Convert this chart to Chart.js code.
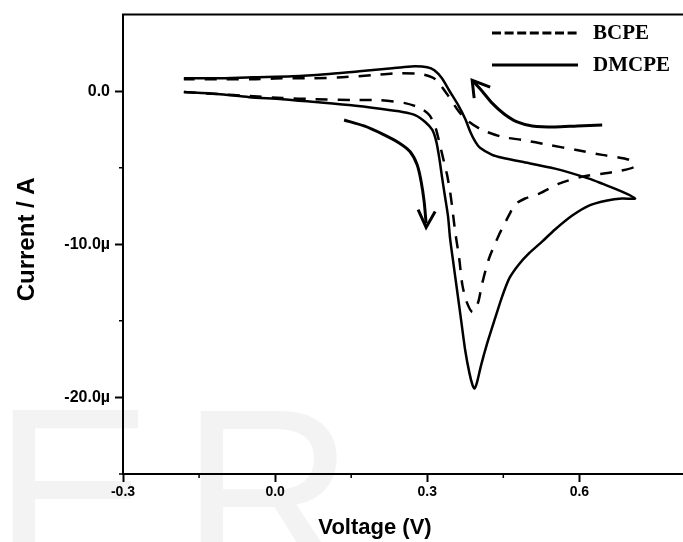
<!DOCTYPE html>
<html><head><meta charset="utf-8">
<style>html,body{margin:0;padding:0;background:#fff;overflow:hidden;width:683px;height:542px}canvas{display:block}</style>
<script src="https://cdn.jsdelivr.net/npm/chart.js@4.4.1/dist/chart.umd.min.js"></script>
</head><body><canvas id="c" width="700" height="542"></canvas>
<script>
// ---- data (V, µA) ----
const dmcpeV = [-0.180,-0.114,-0.051,0.014,0.079,0.146,0.211,0.251,0.276,0.296,0.310,0.318,0.324,0.329,0.335,0.341,0.345,0.351,0.359,0.367,0.375,0.383,0.389,0.393,0.398,0.406,0.418,0.434,0.448,0.462,0.481,0.501,0.527,0.552,0.586,0.619,0.655,0.684,0.710,
  0.684,0.645,0.619,0.552,0.487,0.448,0.428,0.404,0.395,0.385,0.375,0.361,0.343,0.329,0.314,0.300,0.276,0.251,0.231,0.166,0.099,0.034,-0.045,-0.114,-0.180];
const dmcpeI = [-0.06,-0.19,-0.39,-0.52,-0.71,-0.91,-1.17,-1.36,-1.56,-2.01,-2.53,-3.31,-4.42,-5.58,-6.88,-8.18,-9.61,-11.10,-13.05,-15.00,-16.95,-18.38,-19.16,-19.42,-19.03,-17.92,-16.49,-14.81,-13.38,-12.21,-11.30,-10.58,-9.81,-9.03,-8.12,-7.47,-7.14,-7.01,-7.01,
  -6.56,-6.04,-5.71,-5.06,-4.61,-4.35,-4.16,-3.70,-3.31,-2.66,-1.82,-0.91,0.06,0.84,1.36,1.56,1.62,1.56,1.49,1.30,1.10,0.97,0.91,0.84,0.84];
const bcpeV = [-0.180,-0.114,-0.051,0.014,0.079,0.152,0.205,0.256,0.286,0.304,0.316,0.325,0.333,0.339,0.345,0.349,0.355,0.363,0.369,0.377,0.389,0.400,0.408,0.422,0.442,0.462,0.473,0.493,0.521,0.560,0.606,0.645,0.671,0.708,
  0.698,0.645,0.592,0.540,0.487,0.448,0.408,0.383,0.363,0.339,0.316,0.290,0.245,0.191,0.132,0.073,0.014,-0.045,-0.114,-0.180];
const bcpeI = [-0.06,-0.19,-0.32,-0.45,-0.52,-0.58,-0.58,-0.78,-1.10,-1.56,-2.34,-3.51,-4.61,-5.45,-6.56,-7.53,-9.16,-10.91,-12.60,-13.70,-14.42,-13.83,-12.60,-10.91,-9.35,-8.05,-7.40,-7.01,-6.69,-6.04,-5.58,-5.39,-5.26,-4.94,
  -4.48,-4.16,-3.83,-3.51,-3.18,-2.99,-2.53,-2.01,-1.36,-0.19,0.78,1.10,1.17,1.04,0.91,0.84,0.84,0.78,0.78,0.78];
// annotation arrows (data units)
const arrow1V = [0.136,0.1755,0.211,0.2446,0.2663,0.2801,0.288,0.2939,0.2978];
const arrow1I = [-1.88,-2.27,-2.79,-3.38,-3.96,-4.81,-5.91,-7.21,-8.64];
const head1V = [0.282,0.2978,0.3156];
const head1I = [-7.73,-8.90,-7.86];
const arrow2V = [0.645,0.5957,0.5523,0.5069,0.4773,0.4517,0.428,0.4083,0.3905];
const arrow2I = [-2.21,-2.27,-2.34,-2.27,-2.01,-1.49,-0.78,0.0,0.65];
const head2V = [0.4241,0.3886,0.3925];
const head2I = [0.26,0.71,-0.45];
// ticks
const xMajor = [-0.3,0,0.3,0.6];
const xMajorLabels = ['-0.3','0.0','0.3','0.6'];
const xMinor = [-0.15,0.15,0.45];
const yMajor = [0,-10,-20];
const yMajorLabels = ['0.0','-10.0\u00b5','-20.0\u00b5'];
const yMinor = [-5,-15,-25];
const seriesNames = ['BCPE','DMCPE'];

const pts = (xs, ys) => xs.map((x, i) => ({x, y: ys[i]}));

const deco = {
  id: 'deco',
  beforeDraw(chart) {
    const ctx = chart.ctx;
    ctx.save();
    ctx.fillStyle = '#f3f3f3';
    ctx.font = '240px "Liberation Sans", Arial, sans-serif';
    ctx.textBaseline = 'alphabetic';
    ctx.fillText('E', -7, 575);
    ctx.fillText('R', 181, 575);
    ctx.restore();
  },
  afterDraw(chart) {
    const ctx = chart.ctx, a = chart.chartArea;
    const xs = chart.scales.x, ys = chart.scales.y;
    ctx.save();
    ctx.strokeStyle = '#000';
    ctx.lineWidth = 2;
    ctx.beginPath();
    ctx.moveTo(a.left - 1, a.top);
    ctx.lineTo(chart.width, a.top);
    ctx.stroke();
    // minor ticks
    ctx.lineWidth = 1.5;
    ctx.beginPath();
    xMinor.forEach(v => { const p = xs.getPixelForValue(v); ctx.moveTo(p, a.bottom); ctx.lineTo(p, a.bottom + 4); });
    yMinor.forEach(v => { const p = ys.getPixelForValue(v); ctx.moveTo(a.left, p); ctx.lineTo(a.left - 4, p); });
    ctx.stroke();
    // axis titles
    ctx.fillStyle = '#000';
    ctx.textAlign = 'center';
    ctx.textBaseline = 'middle';
    ctx.font = 'bold 22px "Liberation Sans", Arial, sans-serif';
    ctx.fillText('Voltage (V)', a.left + 252, 528);
    ctx.save();
    ctx.translate(27, (a.top + a.bottom) / 2 - 5);
    ctx.rotate(-Math.PI / 2);
    ctx.font = 'bold 24px "Liberation Sans", Arial, sans-serif';
    ctx.fillText('Current / A', 0, 0);
    ctx.restore();
    // legend
    const rows = [33, 65];
    ctx.font = 'bold 21px "Liberation Serif", "Times New Roman", serif';
    ctx.textAlign = 'left';
    chart.data.datasets.slice(0, 2).forEach((ds, i) => {
      const y = rows[i];
      ctx.lineWidth = 3;
      ctx.setLineDash(i === 0 ? [9, 3.6] : []);
      ctx.beginPath();
      ctx.moveTo(492, y);
      ctx.lineTo(578, y);
      ctx.stroke();
      ctx.setLineDash([]);
      ctx.fillText(ds.label, 593, y + 1);
    });
    ctx.restore();
  }
};

const lineDs = (label, xs, ys, dash, w, t) => ({
  label, data: pts(xs, ys), showLine: true, borderColor: '#000', backgroundColor: '#000',
  borderWidth: w, borderDash: dash, pointRadius: 0, tension: t, fill: false
});

new Chart(document.getElementById('c'), {
  type: 'scatter',
  data: {
    datasets: [
      lineDs(seriesNames[0], bcpeV, bcpeI, [12, 10], 2.5, 0.25),
      lineDs(seriesNames[1], dmcpeV, dmcpeI, [], 2.5, 0.25),
      lineDs('a1', arrow1V, arrow1I, [], 3, 0.25),
      lineDs('h1', head1V, head1I, [], 3, 0),
      lineDs('a2', arrow2V, arrow2I, [], 3, 0.25),
      lineDs('h2', head2V, head2I, [], 3, 0)
    ]
  },
  options: {
    responsive: false,
    animation: false,
    layout: {padding: {left: 0, right: 4, top: 13, bottom: 0}},
    plugins: {legend: {display: false}, tooltip: {enabled: false}, title: {display: false}},
    scales: {
      x: {
        type: 'linear', min: -0.3, max: 0.83,
        afterFit: s => { s.height = 68; },
        afterBuildTicks: s => { s.ticks = xMajor.map(v => ({value: v})); },
        border: {display: true, color: '#000', width: 2},
        grid: {drawOnChartArea: false, drawTicks: true, tickLength: 8, tickWidth: 2, tickColor: '#000'},
        ticks: {
          color: '#000', padding: 2, maxRotation: 0, autoSkip: false,
          font: {family: '"Liberation Sans", Arial, sans-serif', weight: 'bold', size: 14},
          callback: v => { const i = xMajor.findIndex(m => Math.abs(m - v) < 1e-9); return i >= 0 ? xMajorLabels[i] : ''; }
        }
      },
      y: {
        type: 'linear', min: -25, max: 5,
        afterFit: s => { s.width = 123; },
        afterBuildTicks: s => { s.ticks = yMajor.map(v => ({value: v})); },
        border: {display: true, color: '#000', width: 2},
        grid: {drawOnChartArea: false, drawTicks: true, tickLength: 8, tickWidth: 2, tickColor: '#000'},
        ticks: {
          color: '#000', padding: 5, autoSkip: false,
          font: {family: '"Liberation Sans", Arial, sans-serif', weight: 'bold', size: 16},
          callback: v => { const i = yMajor.findIndex(m => Math.abs(m - v) < 1e-9); return i >= 0 ? yMajorLabels[i] : ''; }
        }
      }
    }
  },
  plugins: [deco]
});
</script></body></html>
